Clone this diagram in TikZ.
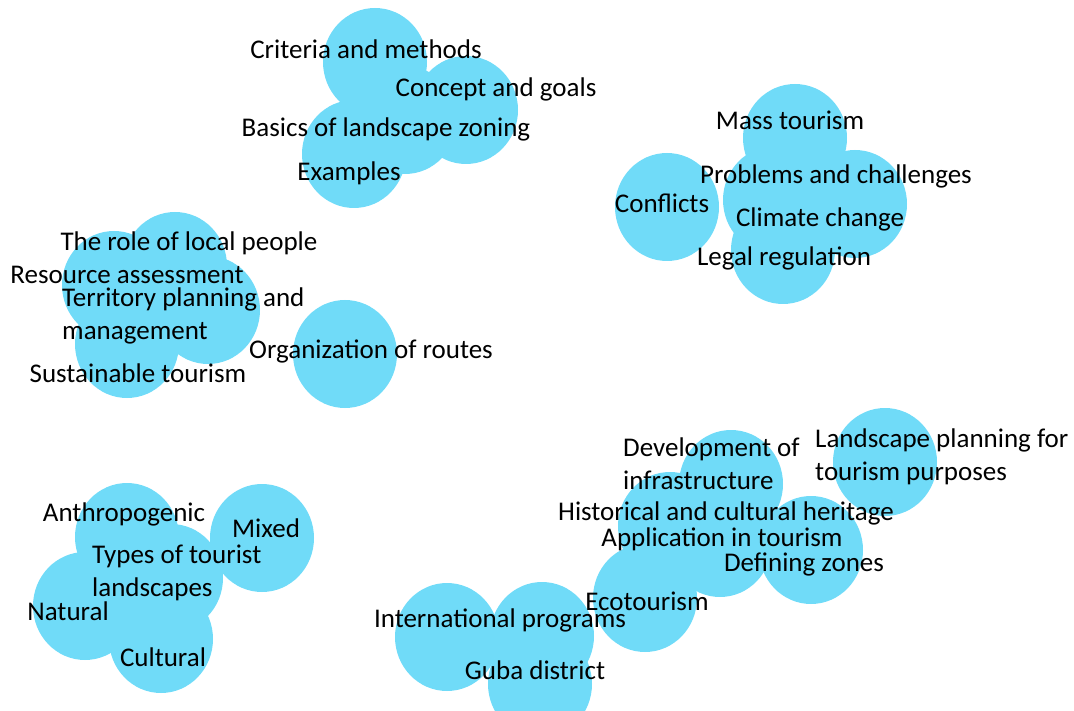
\documentclass[tikz,border=0pt]{standalone}
\usepackage{fontspec}
\setmainfont{Carlito}
\usetikzlibrary{shapes.geometric}
\definecolor{bubbleblue}{RGB}{112,219,248}

\begin{document}
\begin{tikzpicture}[x=1pt, y=-1pt,
  bubble/.style={ellipse, fill=bubbleblue, minimum width=104pt, minimum height=108pt, inner sep=0pt},
  topic/.style={inner sep=0pt, font=\fontsize{27}{33}\selectfont, align=left}]
  \useasboundingbox (0,0) rectangle (1074,711);

  % Landscape zoning
  \node[bubble] (crit) at (375,62) {};
  \node[bubble] (concept) at (466,110) {};
  \node[bubble] (basics) at (405,120) {};
  \node[bubble] (examples) at (354,154) {};

  % Problems and challenges
  \node[bubble] (mass) at (795,138) {};
  \node[bubble] (conflicts) at (667,207) {};
  \node[bubble] (problems) at (775,200) {};
  \node[bubble] (climate) at (855,204) {};
  \node[bubble] (legal) at (783,250) {};

  % Territory planning
  \node[bubble] (locals) at (175,266) {};
  \node[bubble] (resource) at (114,285) {};
  \node[bubble] (territory) at (208,310) {};
  \node[bubble] (sustain) at (127,344) {};
  \node[bubble] (routes) at (345,354) {};

  % Types of tourist landscapes
  \node[bubble] (anthro) at (127,537) {};
  \node[bubble] (mixed) at (262,538) {};
  \node[bubble] (types) at (171,578) {};
  \node[bubble] (natural) at (85,606) {};
  \node[bubble] (cultural) at (161,639) {};

  % Landscape planning for tourism
  \node[bubble] (lplan) at (885,462) {};
  \node[bubble] (infra) at (731,484) {};
  \node[bubble] (heritage) at (670,526) {};
  \node[bubble] (applic) at (720,543) {};
  \node[bubble] (zones) at (811,550) {};
  \node[bubble] (eco) at (645,598) {};
  \node[bubble] (intl) at (447,637) {};
  \node[bubble] (guba) at (542,636) {};
  \node[bubble] (gubalow) at (540,684) {};

  % labels on top
  \node[topic] (critlbl) at (366,49) {Criteria and methods};
  \node[topic] (conceptlbl) at (496,89) {Concept and goals};
  \node[topic] (basicslbl) at (386,129) {Basics of landscape zoning};
  \node[topic] (exampleslbl) at (349,173) {Examples};

  \node[topic] (masslbl) at (790,120) {Mass tourism};
  \node[topic] (problemslbl) at (836,176) {Problems and challenges};
  \node[topic] (conflictslbl) at (662,203) {Conflicts};
  \node[topic] (climatelbl) at (820,219) {Climate change};
  \node[topic] (legallbl) at (784,258) {Legal regulation};

  \node[topic] (localslbl) at (189,243) {The role of local people};
  \node[topic] (resourcelbl) at (127,275) {Resource assessment};
  \node[topic, anchor=west] (territorylbl) at (62,316) {Territory planning and\\management};
  \node[topic] (sustainlbl) at (138,373) {Sustainable tourism};
  \node[topic] (routeslbl) at (371,351) {Organization of routes};

  \node[topic] (anthrolbl) at (124,514) {Anthropogenic};
  \node[topic] (mixedlbl) at (266,528) {Mixed};
  \node[topic, anchor=west] (typeslbl) at (92,573) {Types of tourist\\landscapes};
  \node[topic] (naturallbl) at (68,611) {Natural};
  \node[topic] (culturallbl) at (163,657) {Cultural};

  \node[topic, anchor=west] (infralbl) at (623,464) {Development of\\infrastructure};
  \node[topic, anchor=west] (lplanlbl) at (815,457) {Landscape planning for\\tourism purposes};
  \node[topic] (heritagelbl) at (726,513) {Historical and cultural heritage};
  \node[topic] (appliclbl) at (722,539) {Application in tourism};
  \node[topic] (zoneslbl) at (804,564) {Defining zones};
  \node[topic] (ecolbl) at (647,601) {Ecotourism};
  \node[topic] (intllbl) at (500,620) {International programs};
  \node[topic] (gubalbl) at (535,670) {Guba district};
\end{tikzpicture}
\end{document}
